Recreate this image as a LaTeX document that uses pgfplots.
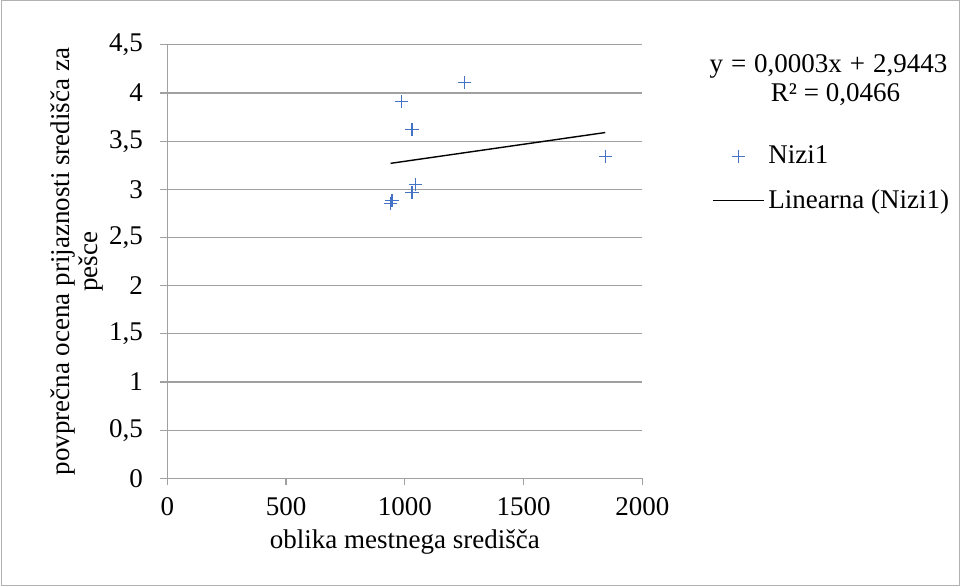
\documentclass[border=0pt]{standalone}
\usepackage{pgfplots}
\pgfplotsset{compat=1.18}
\usepackage{fontspec}
\setmainfont{Liberation Serif}
\definecolor{mblue}{RGB}{68,114,196}
\definecolor{gridgray}{RGB}{160,160,160}
\begin{document}
\fontsize{13.5pt}{16pt}\selectfont
\begin{tikzpicture}
\useasboundingbox (0,0) rectangle (480pt,293.5pt);
\draw[gray!60, line width=0.5pt] (0.5pt,0.5pt) rectangle (479.5pt,293pt);
\begin{axis}[
  at={(83.65pt,54.35pt)}, anchor=south west,
  scale only axis, width=237.5pt, height=216.7pt,
  xmin=0, xmax=2000, ymin=0, ymax=4.5,
  xtick={0,500,1000,1500,2000},
  ytick={0,0.5,...,4.5},
  axis x line*=bottom, axis y line*=left,
  axis line style={gridgray, line width=0.6pt},
  tick align=outside, tick style={gridgray, line width=0.6pt},
  major tick length=3.5pt,
  ymajorgrids, grid style={gridgray, line width=0.6pt},
  /pgf/number format/use comma,
  /pgf/number format/assume math mode=true,
  /pgf/number format/1000 sep={},
  ticklabel style={font=\fontsize{13.5pt}{16pt}\selectfont},
  yticklabel style={xshift=-4pt},
  xticklabel style={yshift=-1.5pt},
  xlabel={oblika mestnega središča},
  ylabel={povprečna ocena prijaznosti središča za\\pešce},
  ylabel style={align=center, font=\fontsize{13.5pt}{14pt}\selectfont},
  ylabel shift=-6pt,
  xlabel shift=-2.5pt,
  xlabel style={font=\fontsize{13.5pt}{16pt}\selectfont},
  legend style={draw=none, fill=none, at={(1.146,0.691)}, anchor=west,
    font=\fontsize{13.5pt}{16pt}\selectfont, row sep=7pt, inner sep=0pt},
  legend cell align=left,
  clip=false,
]
\addplot[only marks, mark=+, mark size=3.3pt, mark options={mblue, line width=0.6pt},
  legend image code/.code={\draw[mblue, line width=0.6pt, mark=+, mark size=3.3pt] plot coordinates {(12.75pt,0pt)};}] coordinates {
  (1252,4.108) (985,3.911) (1030,3.624) (1844,3.34)
  (1044,3.053) (1030,2.966) (946,2.883) (940,2.856)
};
\addlegendentry{Nizi1}
\addplot[black, line width=0.7pt, no marks, legend image code/.code={\draw[black, line width=0.7pt] (0pt,0pt) -- (25.5pt,0pt);}] coordinates {
  (940,3.27) (1844,3.59)
};
\addlegendentry{Linearna (Nizi1)}
\end{axis}
\node[anchor=base, inner sep=0pt] at (414.25pt,257pt) {y\hspace{4pt}=\hspace{4pt}0,0003x\hspace{4pt}+\hspace{4pt}2,9443};
\node[anchor=base, inner sep=0pt] at (417.75pt,242.5pt) {R² = 0,0466};
\end{tikzpicture}
\end{document}
